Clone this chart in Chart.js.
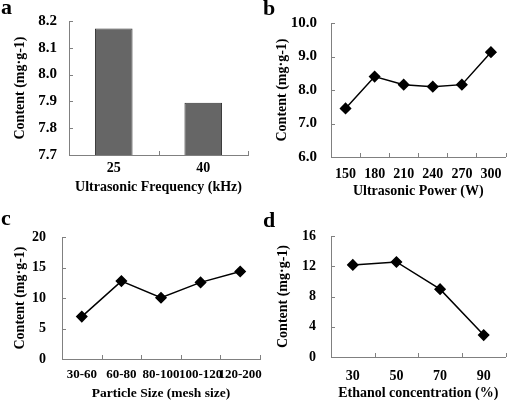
<!DOCTYPE html>
<html>
<head>
<meta charset="utf-8">
<script src="https://cdn.jsdelivr.net/npm/chart.js@4/dist/chart.umd.min.js"></script>
<style>
  body { margin: 0; background: #fff; }
  #wrap { position: relative; width: 512px; height: 400px; overflow: hidden; background: #fff; }
  canvas { position: absolute; }
  .tag { position: absolute; font: bold 22px 'Liberation Serif', serif; line-height: 22px; color: #000; }
</style>
</head>
<body>
<div id="wrap">
  <canvas id="chartA" width="256" height="200" style="left:0;top:0"></canvas>
  <canvas id="chartB" width="256" height="200" style="left:256px;top:0"></canvas>
  <canvas id="chartC" width="272" height="200" style="left:0;top:200px"></canvas>
  <canvas id="chartD" width="256" height="200" style="left:256px;top:200px"></canvas>
  <div class="tag" style="left:1px;top:-4px">a</div>
  <div class="tag" style="left:263px;top:-3px">b</div>
  <div class="tag" style="left:1px;top:207px">c</div>
  <div class="tag" style="left:263px;top:209px">d</div>
</div>
<script>
'use strict';
// panel a
let freqLabels = ['25', '40'];
let freqValues = [8.172, 7.895];
let freqTicks = [7.7, 7.8, 7.9, 8.0, 8.1, 8.2];
// panel b
let powerLabels = ['150', '180', '210', '240', '270', '300'];
let powerValues = [7.45, 8.40, 8.16, 8.10, 8.16, 9.13];
let powerTicks = [6, 7, 8, 9, 10];
// panel c
let sizeLabels = ['30-60', '60-80', '80-100', '100-120', '120-200'];
let sizeValues = [6.95, 12.77, 10.05, 12.56, 14.35];
let sizeTicks = [0, 5, 10, 15, 20];
// panel d
let ethanolLabels = ['30', '50', '70', '90'];
let ethanolValues = [12.18, 12.57, 8.97, 2.90];
let ethanolTicks = [0, 4, 8, 12, 16];

let yTitle = 'Content (mg\u00b7g-1)';
let serif = "'Liberation Serif', 'Times New Roman', serif";
let axisGray = '#808080';

// short tick marks pointing into the plot
let innerTicks = {
    id: 'innerTicks',
    afterDraw(chart) {
        let ctx = chart.ctx;
        let area = chart.chartArea;
        let xs = chart.scales.x;
        let ys = chart.scales.y;
        ctx.save();
        ctx.strokeStyle = axisGray;
        ctx.lineWidth = 1;
        ctx.beginPath();
        for (let i = 0; i < ys.ticks.length; i++) {
            let y = Math.round(ys.getPixelForTick(i)) + 0.5;
            ctx.moveTo(area.left, y);
            ctx.lineTo(area.left + 4, y);
        }
        let n = chart.data.labels.length;
        for (let i = 0; i <= n; i++) {
            let x = Math.round(xs.getPixelForValue(i - 0.5)) + 0.5;
            ctx.moveTo(x, area.bottom);
            ctx.lineTo(x, area.bottom - 4);
        }
        ctx.stroke();
        ctx.restore();
    }
};

function makeChart(id, type, labels, values, ticks, decimals, xTitle, box) {
    let dataset;
    if (type === 'bar') {
        dataset = {
            data: values,
            backgroundColor: '#666666',
            borderColor: '#333333',
            borderWidth: 1,
            barPercentage: 0.42,
            categoryPercentage: 1
        };
    } else {
        dataset = {
            data: values,
            borderColor: '#000',
            borderWidth: 1.5,
            backgroundColor: '#000',
            pointStyle: 'rectRot',
            pointRadius: 5,
            pointBackgroundColor: '#000',
            pointBorderColor: '#000',
            tension: 0
        };
    }
    return new Chart(document.getElementById(id), {
        type: type,
        data: { labels: labels, datasets: [dataset] },
        options: {
            responsive: false,
            animation: false,
            layout: { padding: { left: 0, top: box.top, right: box.w - box.right, bottom: 0 } },
            plugins: { legend: { display: false }, tooltip: { enabled: false } },
            scales: {
                x: {
                    type: 'category',
                    offset: true,
                    grid: { display: false, drawTicks: false },
                    border: { color: axisGray, width: 1 },
                    ticks: {
                        color: '#000',
                        font: { family: serif, size: box.xFont, weight: 'bold' },
                        padding: box.xPad,
                        autoSkip: false,
                        maxRotation: 0,
                        minRotation: 0
                    },
                    title: {
                        display: true,
                        text: xTitle,
                        color: '#000',
                        font: { family: serif, size: box.titleFont, weight: 'bold' },
                        padding: { top: 0, bottom: box.xTitlePad }
                    },
                    afterFit(s) { s.height = box.h - box.bottom; }
                },
                y: {
                    min: ticks[0],
                    max: ticks[ticks.length - 1],
                    grid: { display: false, drawTicks: false },
                    border: { color: axisGray, width: 1 },
                    afterBuildTicks(s) { s.ticks = ticks.map(v => ({ value: v })); },
                    ticks: {
                        color: '#000',
                        font: { family: serif, size: box.yFont, weight: 'bold' },
                        padding: box.yPad,
                        callback: v => Number(v).toFixed(decimals)
                    },
                    title: {
                        display: true,
                        text: yTitle,
                        color: '#000',
                        font: { family: serif, size: 14, weight: 'bold' },
                        padding: { top: box.yTitlePad, bottom: 0 }
                    },
                    afterFit(s) { s.width = box.left; }
                }
            }
        },
        plugins: [innerTicks]
    });
}

makeChart('chartA', 'bar', freqLabels, freqValues, freqTicks, 1, 'Ultrasonic Frequency (kHz)',
    { w: 256, h: 200, left: 69, top: 12, right: 248, bottom: 155, xFont: 14, yFont: 15, titleFont: 14,
      xPad: 5, yPad: 12, xTitlePad: 4, yTitlePad: 12 });
makeChart('chartB', 'line', powerLabels, powerValues, powerTicks, 1, 'Ultrasonic Power (W)',
    { w: 256, h: 200, left: 75, top: 11, right: 255, bottom: 157, xFont: 14, yFont: 15, titleFont: 14,
      xPad: 9, yPad: 14, xTitlePad: 0, yTitlePad: 18 });
makeChart('chartC', 'line', sizeLabels, sizeValues, sizeTicks, 0, 'Particle Size (mesh size)',
    { w: 272, h: 200, left: 62, top: 37, right: 260, bottom: 159, xFont: 13, yFont: 14, titleFont: 13.5,
      xPad: 8, yPad: 16, xTitlePad: -1.5, yTitlePad: 12 });
makeChart('chartD', 'line', ethanolLabels, ethanolValues, ethanolTicks, 0, 'Ethanol concentration (%)',
    { w: 256, h: 200, left: 75, top: 36, right: 255, bottom: 157, xFont: 14, yFont: 14, titleFont: 14,
      xPad: 11, yPad: 15, xTitlePad: -1.5, yTitlePad: 19 });
</script>
</body>
</html>
